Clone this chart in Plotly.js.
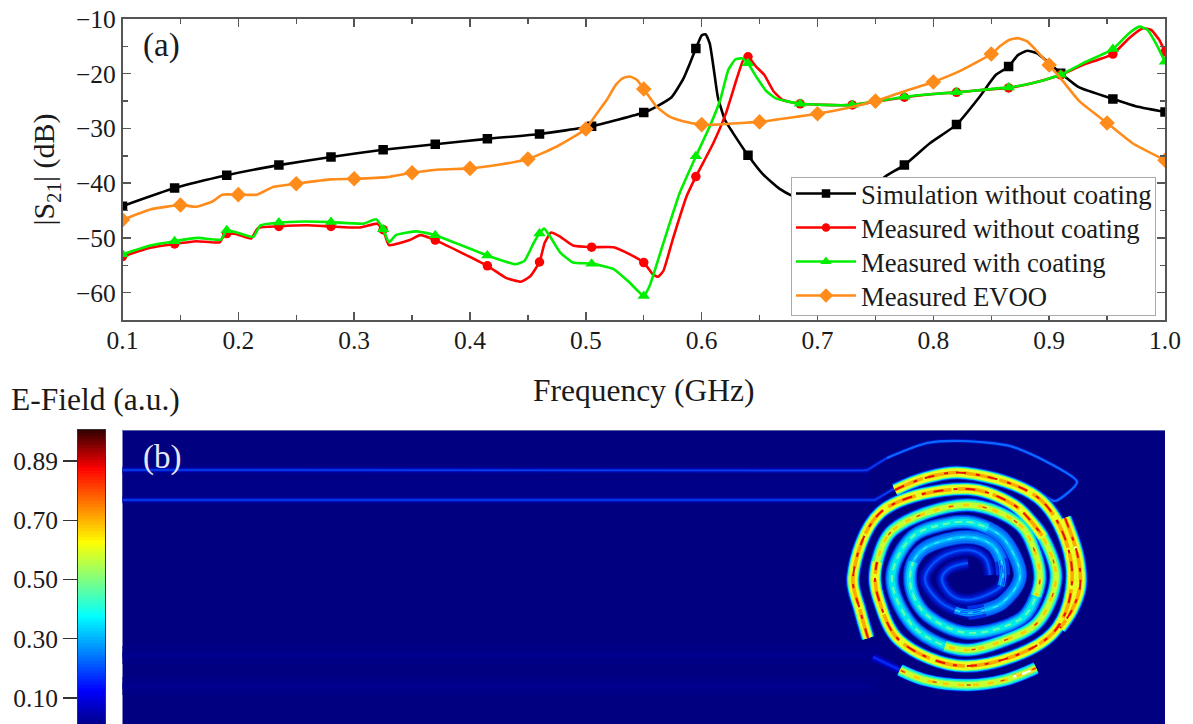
<!DOCTYPE html>
<html><head><meta charset="utf-8">
<script src="https://cdn.plot.ly/plotly-3.0.1.min.js"></script>
<style>html,body{margin:0;padding:0;background:#fff;overflow:hidden}#c{width:1193px;height:724px}</style>
</head><body><div id="c"></div><script>
// ---------- panel (a) data : frequency (GHz), |S21| (dB)
const simX=[0.1,0.145,0.19,0.235,0.28,0.325,0.37,0.415,0.46,0.505,0.55,0.561,0.574,0.584,0.591,0.595,0.6,0.6035,0.607,0.611,0.614,0.62,0.627,0.64,0.653,0.667,0.679,0.7,0.72,0.74,0.759,0.775,0.797,0.82,0.84,0.854,0.865,0.873,0.881,0.89,0.9,0.91,0.926,0.955,0.978,1.0];
const simY=[-44.2,-40.9,-38.55,-36.7,-35.2,-33.9,-32.9,-31.9,-31,-29.6,-27.1,-26,-24.3,-21,-17.5,-15.4,-13,-12.8,-14.5,-20,-24.3,-28.4,-30.8,-34.9,-38.4,-41,-42.4,-44,-44.3,-41.8,-38.7,-36.7,-32.7,-29.3,-24.2,-20.2,-18.7,-16.6,-15.8,-16.3,-18.1,-19.9,-22.5,-24.6,-26.1,-27];
const bareX=[0.1,0.124,0.145,0.164,0.184,0.188,0.19,0.198,0.211,0.217,0.235,0.259,0.28,0.305,0.32,0.325,0.33,0.348,0.357,0.37,0.415,0.431,0.444,0.452,0.46,0.4645,0.47,0.478,0.489,0.505,0.524,0.538,0.55,0.558,0.5625,0.567,0.575,0.587,0.595,0.61,0.621,0.63,0.636,0.64,0.647,0.654,0.662,0.67,0.685,0.705,0.73,0.75,0.775,0.8,0.82,0.845,0.865,0.886,0.91,0.929,0.955,0.969,0.981,0.988,0.995,1.0];
const bareY=[-53.4,-51.8,-51.1,-50.6,-50.8,-49.3,-49.2,-49.3,-50.1,-48.2,-47.9,-47.7,-47.9,-48.1,-47.4,-48.5,-51.3,-50.4,-49.5,-50.4,-55.1,-57.3,-58,-57,-54.4,-50.9,-49,-49.8,-51.4,-51.7,-51.7,-53,-54.5,-56.7,-57.1,-56,-50.3,-42.4,-38.8,-32.7,-27.2,-21.1,-17.5,-16.9,-18.7,-20.2,-23.2,-24.8,-25.5,-25.7,-25.7,-25.1,-24.3,-23.7,-23.4,-22.9,-22.6,-21.7,-20.2,-18.4,-16.4,-13.5,-11.7,-12,-13.8,-16];
const coatX=[0.1,0.124,0.145,0.165,0.185,0.19,0.2,0.213,0.219,0.235,0.256,0.28,0.308,0.319,0.325,0.33,0.336,0.354,0.37,0.415,0.429,0.439,0.447,0.455,0.46,0.464,0.469,0.478,0.489,0.505,0.524,0.538,0.55,0.555,0.567,0.581,0.595,0.607,0.616,0.623,0.629,0.635,0.64,0.647,0.656,0.664,0.685,0.705,0.73,0.75,0.775,0.8,0.82,0.845,0.865,0.886,0.91,0.929,0.955,0.969,0.978,0.985,0.992,1.0];
const coatY=[-53,-51.4,-50.6,-50,-50.3,-48.6,-49.1,-49.8,-47.7,-47.2,-47,-47.1,-47.4,-46.6,-48.4,-50.8,-49.5,-48.8,-49.5,-53.2,-54.2,-54.8,-54.2,-50.9,-49.2,-48.3,-49.7,-52.7,-54.5,-54.7,-55.7,-58.2,-60.6,-58.8,-50.9,-41.8,-35.1,-29.6,-24.8,-19.3,-17.4,-17.2,-18.1,-20.5,-23.2,-24.5,-25.5,-25.7,-25.7,-25.1,-24.2,-23.7,-23.4,-22.9,-22.5,-21.7,-20.2,-18.1,-15.5,-12.6,-11.4,-12,-14.4,-17.8];
const evooX=[0.1,0.124,0.15,0.164,0.178,0.186,0.2,0.216,0.23,0.25,0.279,0.3,0.328,0.35,0.374,0.4,0.426,0.45,0.475,0.5,0.509,0.518,0.526,0.532,0.538,0.544,0.55,0.561,0.572,0.584,0.6,0.613,0.633,0.65,0.684,0.7,0.725,0.75,0.775,0.8,0.825,0.85,0.858,0.866,0.873,0.881,0.89,0.9,0.912,0.926,0.95,0.972,1.0];
const evooY=[-46.7,-44.8,-44,-44.3,-43.3,-42.1,-42.1,-42.1,-40.7,-40.1,-39.3,-39.2,-38.9,-38.1,-37.5,-37.3,-36.6,-35.6,-33.3,-30.1,-27.4,-24.8,-22,-20.8,-20.5,-21.1,-22.8,-26,-27.8,-28.7,-29.3,-29.3,-29,-28.8,-27.8,-27.3,-26.3,-25,-23.2,-21.5,-19.3,-16.4,-14.9,-13.8,-13.5,-14.1,-16,-18.4,-21.4,-25,-29,-32.7,-35.8];
const mark45=[0.1,0.145,0.19,0.235,0.28,0.325,0.37,0.415,0.46,0.505,0.55,0.595,0.64,0.685,0.73,0.775,0.82,0.865,0.91,0.955,1.0];
const mark50=[0.1,0.15,0.2,0.25,0.3,0.35,0.4,0.45,0.5,0.55,0.6,0.65,0.7,0.75,0.8,0.85,0.9,0.95,1.0];
const seriesNames=['Simulation without coating','Measured without coating','Measured with coating','Measured EVOO'];
const seriesColors=['#000000','#ff0000','#00ee00','#ff8c1a'];
const seriesSymbols=['square','circle','triangle-up','diamond'];
const seriesSizes=[9.5,9.5,11,12];

// ---------- panel (b) field traces, read in panel units
const feedTopX=[122,860,867,887,927,963,1010,1047,1077,1055,1043];
const feedTopY=[470,470.5,470,458,443,441,446,462,482,501,495];
const feedCurveX=[887,927,963,1010,1047,1077,1055,1043];
const feedCurveY=[458,443,441,446,462,482,501,495];
const feedLowX=[122,875,895];
const feedLowY=[500,500,488];
const bandsY=[655,686];
const armA=[[895,490],[925,478],[965,473],[1042,501],[1072,570],[1053,633],[965,666],[899,640],[879,600],[875,580],[877,562],[893,530],[968,505],[1020,525],[1035,552],[1040,578],[1036,596],[1022,618],[968,633],[928,616],[914,597],[910,578],[913,562],[925,548],[968,537],[992,545],[1001,560],[1003,575],[1001,586],[968,600],[950,594],[942,578],[950,568],[968,563]];
const armC=[[868,638],[860,610],[853,577],[881,512],[968,489],[1014,505],[1030,520],[1043,537],[1056,577],[1038,622],[1000,642],[968,650],[945,646],[912,625],[892,578],[912,537],[945,524],[968,522],[988,528],[1005,540],[1020,577],[1002,603],[985,610],[968,613],[955,610],[938,600],[925,578],[940,558],[968,550],[985,558],[990,575]];
const armBHot=[[1065,518],[1078,557],[1080,587],[1072,610],[1060,628]];
const armDWarm=[[1036,668],[1005,680],[968,685],[925,680],[900,670]];
const armDFaint=[[900,670],[873,657]];
const hotEnds=[[897,489],[906,484],[918,480]];
const hotEnds2=[[1066,519],[1071,532],[1076,550]];
const hotEnds3=[[1034,669],[1025,673],[1013,677]];
// where each arm changes intensity, as [first point, last point, level]
const armALevels=[[26,33,'dim'],[20,28,'cool2'],[14,22,'cool'],[8,16,'warm'],[0,10,'hot']];
const armCLevels=[[22,30,'dim'],[16,24,'cool2'],[10,18,'cool'],[5,12,'warm'],[0,7,'hot']];

// ---------- colour bar
const barTicks=[0.1,0.3,0.5,0.7,0.9];
const barLabels=['0.10','0.30','0.50','0.70','0.89'];
const jetStops=[[0,'#00007f'],[0.11,'#0000f0'],[0.125,'#0000ff'],[0.375,'#00ffff'],[0.625,'#ffff00'],[0.875,'#ff0000'],[1,'#3a0000']];
const barLevels=[];for(let i=0;i<=100;i++)barLevels.push(i/100);

const serif='"Liberation Serif","Times New Roman",serif';
const curves=[[simX,simY,mark45],[bareX,bareY,mark45],[coatX,coatY,mark45],[evooX,evooY,mark50]];
const traces=[];
curves.forEach(([xs,ys,marks],i)=>{
  traces.push({x:xs,y:ys,mode:'lines',line:{color:seriesColors[i],width:2.6,shape:'spline',smoothing:0.45},showlegend:false,hoverinfo:'skip',xaxis:'x',yaxis:'y'});
  const mx=[],my=[];
  xs.forEach((v,k)=>{if(marks.some(m=>Math.abs(m-v)<1e-6)){mx.push(v);my.push(ys[k]);}});
  traces.push({x:mx,y:my,mode:'markers',marker:{color:seriesColors[i],symbol:seriesSymbols[i],size:seriesSizes[i]},showlegend:false,hoverinfo:'skip',xaxis:'x',yaxis:'y'});
});
seriesNames.forEach((n,i)=>{
  traces.push({x:[null],y:[null],name:n,mode:'lines+markers',line:{color:seriesColors[i],width:2.6},marker:{color:seriesColors[i],symbol:seriesSymbols[i],size:seriesSizes[i]-1},xaxis:'x',yaxis:'y'});
});
// field panel
const pl=(x,y,c,w,dash,shape)=>traces.push({x,y,mode:'lines',line:Object.assign({color:c,width:w,dash:dash||'solid'},shape||{}),showlegend:false,hoverinfo:'skip',xaxis:'x2',yaxis:'y2'});
bandsY.forEach(y=>{pl([122,880],[y,y],'#000086',18);pl([122,870],[y,y],'#00008e',6);});
pl([122,870],[485,485],'#000086',26);pl([122,870],[470,470],'#000094',7);pl([122,885],[500,500],'#000094',7);
const feedSpline={shape:'spline',smoothing:0.7};
pl(feedTopX,feedTopY,'#0010b8',4,null,feedSpline);
pl(feedLowX,feedLowY,'#0010b8',4);
pl(feedTopX,feedTopY,'#0840f4',1.5,null,feedSpline);
pl(feedLowX,feedLowY,'#0840f4',1.5);
pl(feedCurveX,feedCurveY,'#0a68ff',2.2,null,feedSpline);
const curl={shape:'spline',smoothing:1};
const draw=(pts,c,w,d)=>pl(pts.map(p=>p[0]),pts.map(p=>p[1]),c,w,d,curl);
const lit=(arm,n)=>arm.slice(0,n);
// whole arms carry the deep-blue skirt, lighter inner colours sit over them
draw(armA.slice(26),'#0008a8',12);draw(armC.slice(22),'#0008a8',12);
draw(lit(armA,28),'#0030e8',14);draw(lit(armC,24),'#0030e8',14);draw(armBHot,'#0030ff',14);draw(armDWarm,'#0030ff',13);
draw(lit(armA,27),'#0070f8',12);draw(lit(armC,23),'#0070f8',12);draw(armBHot,'#0090ff',12.5);draw(armDWarm,'#0090ff',11.5);
const stacks={
  hot:[['#00e0f0',11.5],['#60ff80',10],['#e8ff20',8.5],['#ffa800',3.6,'30px,6px'],['#e81000',2,'10px,10px,4px,8px']],
  warm:[['#00e0f0',11],['#50ff90',8.5],['#c8ff30',5.5],['#ffc800',2.6,'6px,9px'],['#f04000',1.4,'4px,30px']],
  cool:[['#00b0ff',9.5],['#00e8e8',6],['#60ffb0',2.2,'7px,5px']],
  cool2:[['#0090ff',7],['#00c8ff',3],['#40e8ff',1.2,'5px,8px']],
  dim:[['#0018c8',8],['#0030e8',4],['#0060ff',1.4]],
  faint:[['#0000c0',7],['#0028f0',3]],
  white:[['#ff8000',7],['#ff3000',5],['#ffffff',2]]
};
const pieces=[];
armALevels.forEach(([a,b,l])=>pieces.push([armA.slice(a,b+1),l]));
armCLevels.forEach(([a,b,l])=>pieces.push([armC.slice(a,b+1),l]));
pieces.push([armDFaint,'faint'],[armDWarm,'warm'],[armBHot,'hot'],[hotEnds,'white'],[hotEnds2,'white'],[hotEnds3,'white']);
for(let layer=0;layer<5;layer++){
  pieces.forEach(([pts,lvl])=>{
    const s=stacks[lvl][layer];if(s)draw(pts,s[0],s[1],s[2]);
  });
}
// colour bar
traces.push({type:'heatmap',x:[0,1],y:barLevels,z:barLevels.map(v=>[v,v]),zmin:0,zmax:1,colorscale:jetStops,showscale:false,hoverinfo:'skip',xaxis:'x3',yaxis:'y3'});

const W=1193,H=724;
const frame='#555555';
const layout={
  width:W,height:H,margin:{l:0,r:0,t:0,b:0},paper_bgcolor:'#fff',plot_bgcolor:'#fff',showlegend:true,
  font:{family:serif,size:26,color:'#1a1a1a'},
  xaxis:{domain:[122.5/W,1165/W],range:[0.1,1.0],anchor:'y',dtick:0.1,tick0:0.1,tickformat:'.1f',ticks:'inside',ticklen:8,tickwidth:1.4,tickcolor:frame,showgrid:false,zeroline:false,showline:true,linecolor:frame,linewidth:1.6,mirror:'allticks',ticklabelstandoff:-3,
    minor:{dtick:0.05,tick0:0.1,ticks:'inside',ticklen:5,tickwidth:1.4,tickcolor:frame,showgrid:false},
    tickfont:{size:25.5},title:{text:'Frequency (GHz)',font:{size:31.5},standoff:25}},
  yaxis:{domain:[(H-320)/H,(H-19)/H],range:[-65,-10],anchor:'x',dtick:10,tick0:-10,ticks:'inside',ticklen:8,tickwidth:1.4,tickcolor:frame,showgrid:false,zeroline:false,showline:true,linecolor:frame,linewidth:1.6,mirror:'allticks',
    minor:{dtick:5,tick0:-10,ticks:'inside',ticklen:5,tickwidth:1.4,tickcolor:frame,showgrid:false},
    tickfont:{size:25.5},title:{text:'|S<sub>21</sub>| (dB)',font:{size:30},standoff:12}},
  xaxis2:{domain:[122.5/W,1165/W],range:[122.5,1165],anchor:'y2',visible:false},
  yaxis2:{domain:[0,(H-430)/H],range:[724,430],anchor:'x2',visible:false},
  xaxis3:{domain:[78/W,105/W],range:[0,1],anchor:'y3',showticklabels:false,ticks:'',showline:true,linecolor:'#333',linewidth:1,mirror:true,showgrid:false,zeroline:false},
  yaxis3:{domain:[0,(H-430)/H],range:[0.012,1.005],anchor:'x3',tickvals:barTicks,ticktext:barLabels,ticks:'outside',ticklen:14,tickwidth:1.3,tickcolor:'#333',showline:true,linecolor:'#333',linewidth:1,mirror:true,showgrid:false,zeroline:false,tickfont:{size:25.5}},
  legend:{x:791/W,y:(H-177)/H,xanchor:'left',yanchor:'top',bgcolor:'#fff',bordercolor:'#aaaaaa',borderwidth:1,itemwidth:60,font:{size:26.7,color:'#1a1a1a'},itemclick:false,itemdoubleclick:false},
  shapes:[{type:'rect',xref:'x2 domain',yref:'y2 domain',x0:0,x1:1,y0:0,y1:1,fillcolor:'#000080',line:{width:0},layer:'below'},
          {type:'rect',xref:'paper',yref:'paper',x0:122.5/W,x1:1165/W,y0:(H-430)/H,y1:(H-431)/H,fillcolor:'#5a66a8',line:{width:0},layer:'above'}],
  annotations:[
    {text:'(a)',xref:'x domain',yref:'y domain',x:(161.5-122.5)/(1165-122.5),y:1-(46-19)/301,showarrow:false,font:{size:33,color:'#1a1a1a'},xanchor:'center',yanchor:'middle'},
    {text:'(b)',xref:'paper',yref:'paper',x:162/W,y:(H-457)/H,showarrow:false,font:{size:33,color:'#e6e6f5'},xanchor:'center',yanchor:'middle'},
    {text:'E-Field (a.u.)',xref:'paper',yref:'paper',x:95/W,y:(H-400)/H,showarrow:false,font:{size:31.5,color:'#1a1a1a'},xanchor:'center',yanchor:'middle'}
  ]
};
Plotly.newPlot('c',traces,layout,{staticPlot:true,displayModeBar:false}).then(()=>{
  const p=document.querySelector('.subplot.x2y2 .plot');
  if(p)p.style.filter='blur(1px)';
  // tighten legend rows to the reference's spacing
  const rows=document.querySelectorAll('.legend .traces');
  rows.forEach((r,i)=>r.setAttribute('transform','translate(0,'+(16.5+i*34)+')'));
  const bg=document.querySelector('.legend .bg');
  if(bg){bg.setAttribute('height',138);bg.setAttribute('width',364);}
});
</script></body></html>
